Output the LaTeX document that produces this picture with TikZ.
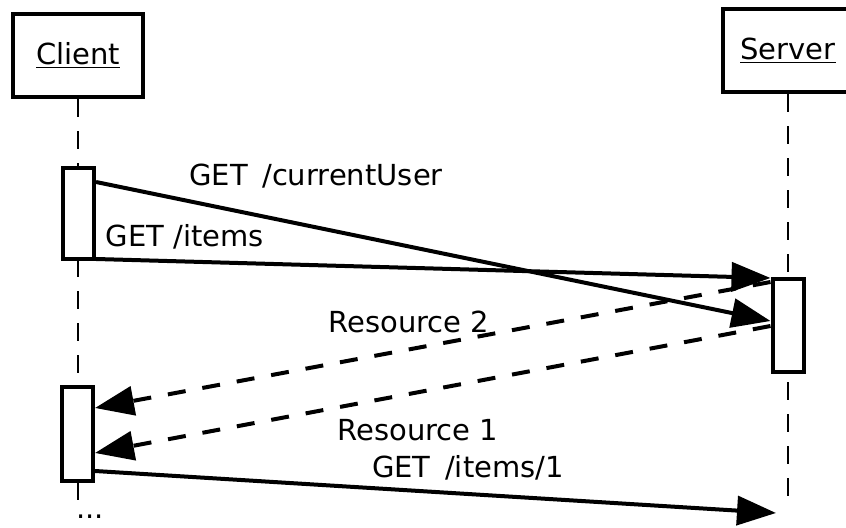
\documentclass[tikz,border=0pt]{standalone}
\usepackage{fontspec}
\setmainfont{DejaVu Sans}
\usetikzlibrary{
  arrows.meta,
  positioning,
}

\begin{document}
\begin{tikzpicture}[x=0.5pt, y=-0.5pt,
  every node/.style={font=\fontsize{14.5}{17}\selectfont},
  actor/.style={draw, line width=2.3pt, fill=white, minimum width=65pt, minimum height=41.5pt},
  activation/.style={draw, line width=2pt, fill=white, minimum width=15.5pt, inner sep=0pt},
  lifeline/.style={line width=0.9pt, dash pattern=on 9pt off 7pt},
  msg/.style={line width=2pt, -{Triangle[length=19.5pt, width=14.5pt]}},
  reply/.style={msg, dash pattern=on 9pt off 8.5pt}]
\useasboundingbox (0,0) rectangle (846,528);

\node[actor] (client) at (78,55.5) {\underline{Client}};
\node[actor] (server) at (788,50.5) {\underline{Server}};

\coordinate (clientend) at (78,500);
\coordinate (serverend) at (788,500);
\draw[lifeline] (client.south) -- (clientend);
\draw[lifeline] (server.south) -- (serverend);

\node[activation, minimum height=45.5pt] (ca) at (78.5,213.5) {};
\node[activation, minimum height=46.5pt] (sa) at (788,325.5) {};
\node[activation, minimum height=47pt] (cb) at (77.5,434) {};

\draw[msg] ([yshift=-8pt]ca.north east) -- ([yshift=-22pt]sa.north west);
\draw[msg] ([yshift=1pt]ca.south east) -- ([yshift=-0.5pt]sa.north west);
\draw[reply] ([yshift=-2.5pt]sa.north west) -- ([yshift=-11.5pt]cb.north east);
\draw[reply] ([yshift=-24.5pt]sa.north west) -- ([yshift=-34pt]cb.north east);
\coordinate (getend) at (776,513);
\draw[msg] ([yshift=6pt]cb.south east) -- (getend);

\node (l1) at (316,176) {GET\enspace/currentUser};
\node (l2) at (185,237) {GET /items};
\node (l3) at (409,322) {Resource 2};
\node (l4) at (418,430) {Resource 1};
\node (l5) at (468,468) {GET\enspace/items/1};
\node[anchor=base west, inner sep=0pt, text depth=0pt] (more) at (76,519) {...};
\end{tikzpicture}
\end{document}
